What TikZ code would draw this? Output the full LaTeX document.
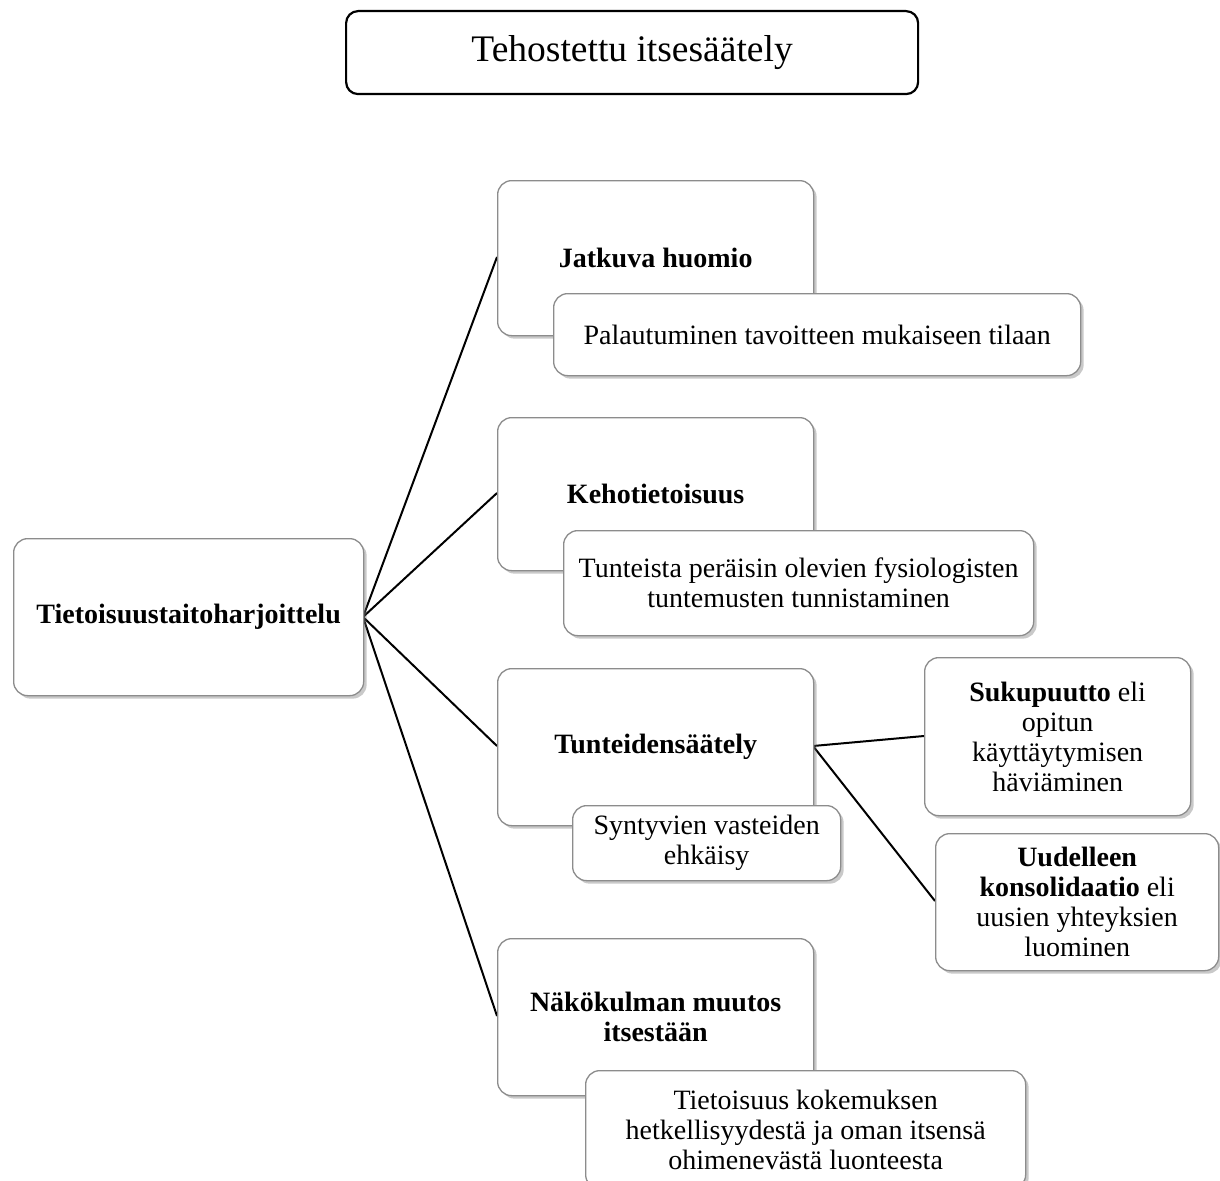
\documentclass[tikz,border=0pt]{standalone}
\usepackage{fontspec}
\setmainfont{Liberation Serif}
\usetikzlibrary{shadows}
\definecolor{boxgray}{gray}{0.55}
\tikzset{
  box/.style={draw=boxgray, line width=1.3pt, fill=white, rounded corners=14pt,
    anchor=north west, inner sep=4pt, align=center,
    font=\fontsize{28}{30}\selectfont,
    drop shadow={shadow xshift=3pt, shadow yshift=-3pt, opacity=0.35, fill=black!60}},
  link/.style={draw=black, line width=2pt},
}
\begin{document}
\begin{tikzpicture}[x=1pt,y=-1pt]
\useasboundingbox (0,0) rectangle (1220,1180);
\fill[white] (0,0) rectangle (1220,1180);

% title
\node[draw=black, line width=2.2pt, rounded corners=12pt, anchor=north west,
  minimum width=572pt, minimum height=83pt, inner sep=0pt,
  font=\fontsize{37.5}{40}\selectfont] (title) at (345,10) {Tehostettu itsesäätely};

% coordinates for connector ends
\coordinate (rootE) at (363,617);
\coordinate (jW) at (497,257);
\coordinate (kW) at (497,493);
\coordinate (tW) at (497,746);
\coordinate (nW) at (497,1016);
\coordinate (tE) at (813,746);
\coordinate (sW) at (924,736);
\coordinate (uW) at (935,901);

% connectors
\draw[link] (rootE) -- (jW);
\draw[link] (rootE) -- (kW);
\draw[link] (rootE) -- (tW);
\draw[link] (rootE) -- (nW);
\draw[link] (tE) -- (sW);
\draw[link] (tE) -- (uW);

% root
\node[box, minimum width=350pt, minimum height=157pt] (root) at (13,538)
  {\textbf{Tietoisuustaitoharjoittelu}};

% branch 1
\node[box, minimum width=316pt, minimum height=155pt] (j) at (497,180)
  {\textbf{Jatkuva huomio}};
\node[box, minimum width=527pt, minimum height=82pt] (jp) at (553,293)
  {Palautuminen tavoitteen mukaiseen tilaan};

% branch 2
\node[box, minimum width=316pt, minimum height=153pt] (k) at (497,417)
  {\textbf{Kehotietoisuus}};
\node[box, minimum width=470pt, minimum height=105pt] (kp) at (563,530)
  {Tunteista peräisin olevien fysiologisten\\tuntemusten tunnistaminen};

% branch 3
\node[box, minimum width=316pt, minimum height=157pt] (t) at (497,668)
  {\textbf{Tunteidensäätely}};
\node[box, minimum width=268pt, minimum height=75pt] (tp) at (572,805)
  {Syntyvien vasteiden\\ehkäisy};

% branch 4
\node[box, minimum width=316pt, minimum height=157pt] (n) at (497,938)
  {\textbf{Näkökulman muutos}\\\textbf{itsestään}};
\node[box, minimum width=440pt, minimum height=118pt] (np) at (585,1070)
  {Tietoisuus kokemuksen\\hetkellisyydestä ja oman itsensä\\ohimenevästä luonteesta};

% right boxes
\node[box, minimum width=266pt, minimum height=158pt] (s) at (924,657)
  {\textbf{Sukupuutto} eli\\opitun\\käyttäytymisen\\häviäminen};
\node[box, minimum width=283pt, minimum height=137pt] (u) at (935,833)
  {\textbf{Uudelleen}\\\textbf{konsolidaatio} eli\\uusien yhteyksien\\luominen};
\end{tikzpicture}
\end{document}
